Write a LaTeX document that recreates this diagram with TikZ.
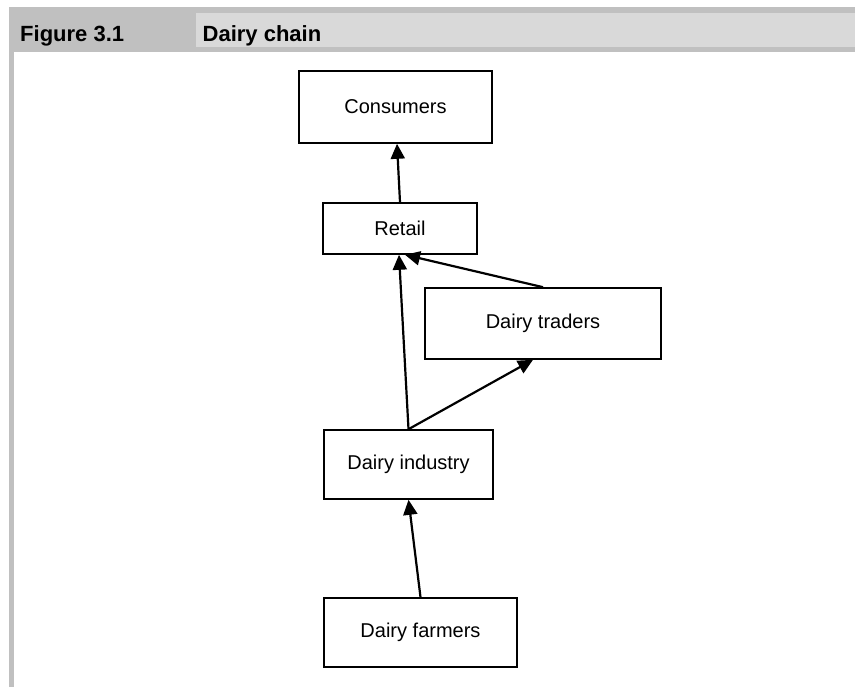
\documentclass[tikz,border=0pt]{standalone}
\usepackage{fontspec}
\setmainfont{Liberation Sans}
\usetikzlibrary{arrows.meta}
\definecolor{hdark}{HTML}{C0C0C0}
\definecolor{hlight}{HTML}{D9D9D9}
\begin{document}
\begin{tikzpicture}[x=1pt,y=-1pt,
  box/.style={draw, line width=1.6pt, inner sep=0pt, align=center,
    font=\fontsize{20}{24}\selectfont},
  conn/.style={line width=2.2pt, -{Triangle[length=15pt,width=14pt]}},
  htext/.style={anchor=base west, inner sep=0pt, font=\fontsize{22}{26}\selectfont\bfseries}]
\useasboundingbox (0,0) rectangle (855,687);
% header
\fill[hdark] (9,7.3) rectangle (855,51.7);
\fill[hlight] (196,12.7) rectangle (855,46.7);
\fill[hdark] (9,51.7) rectangle (14,687);
\node[htext] (fig) at (20,41.7) {Figure 3.1};
\node[htext] (title) at (202.5,41.7) {Dairy chain};
% boxes
\node[box, minimum width=193pt, minimum height=72pt] (con) at (395.5,107) {Consumers};
\node[box, minimum width=154pt, minimum height=51pt] (ret) at (400,228.5) {Retail};
\node[box, minimum width=236pt, minimum height=71pt] (tra) at (543,323.5) {Dairy traders};
\node[box, minimum width=169pt, minimum height=69pt] (ind) at (408.5,464.5) {Dairy industry};
\node[box, minimum width=193pt, minimum height=69pt] (far) at (420.5,632.5) {Dairy farmers};
% connectors
\draw[conn] (ret.north) -- ([xshift=1.5pt]con.south);
\draw[conn] (ind.north) -- ([xshift=-1pt]ret.south);
\draw[conn] (tra.north) -- ([xshift=5pt]ret.south);
\draw[conn] (ind.north) -- ([xshift=-10pt]tra.south);
\draw[conn] (far.north) -- (ind.south);
\end{tikzpicture}
\end{document}
